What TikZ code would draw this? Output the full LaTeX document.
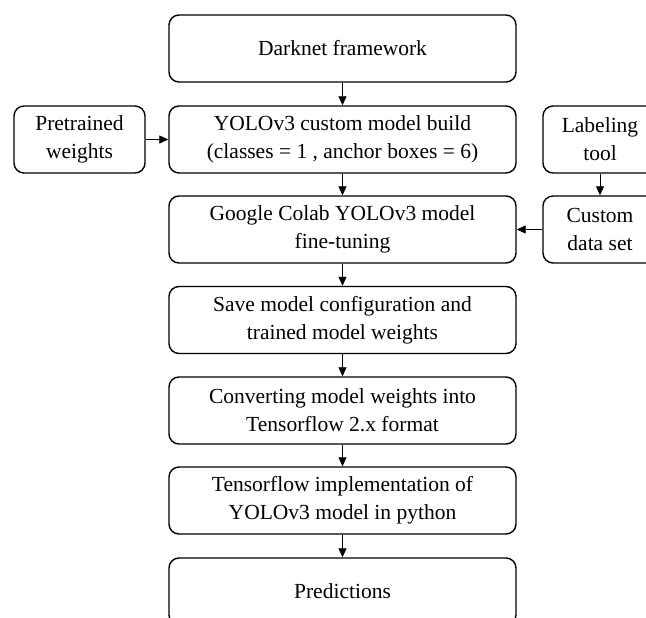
\documentclass[tikz,border=0pt]{standalone}
\usepackage{fontspec}
\setmainfont{Liberation Serif}
\usetikzlibrary{arrows.meta}
\begin{document}
\begin{tikzpicture}[x=1pt,y=-1pt,
  box/.style={draw=black, line width=1.4pt, rounded corners=10pt, inner sep=0pt,
    align=center, font=\fontsize{21.5}{28}\selectfont, minimum height=67pt},
  mainbox/.style={box, minimum width=347pt},
  sidebox/.style={box, minimum width=114pt},
  conn/.style={draw=black, line width=0.8pt, -{Triangle[length=9pt,width=8pt]}}]
\useasboundingbox (0,0) rectangle (646,618);
\clip (0,0) rectangle (646,618);
\node[mainbox] (dark) at (342.5,48.5) {Darknet framework};
\node[mainbox] (yolo) at (342.5,139.5) {YOLOv3 custom model build\\(classes = 1 , anchor boxes = 6)};
\node[mainbox] (colab) at (342.5,229.5) {Google Colab YOLOv3 model\\fine-tuning};
\node[mainbox] (save) at (342.5,320) {Save model configuration and\\trained model weights};
\node[mainbox] (conv) at (342.5,410.5) {Converting model weights into\\Tensorflow 2.x format};
\node[mainbox] (tf) at (342.5,500.5) {Tensorflow implementation of\\YOLOv3 model in python};
\node[mainbox] (pred) at (342.5,591.5) {Predictions};
\node[box, minimum width=131pt] (pre) at (79.5,139.5) {Pretrained\\weights};
\node[sidebox] (lab) at (600,139.5) {Labeling\\tool};
\node[sidebox] (cust) at (600,229.5) {Custom\\data set};
\draw[conn] (dark) -- (yolo);
\draw[conn] (yolo) -- (colab);
\draw[conn] (colab) -- (save);
\draw[conn] (save) -- (conv);
\draw[conn] (conv) -- (tf);
\draw[conn] (tf) -- (pred);
\draw[conn] (pre) -- (yolo);
\draw[conn] (lab) -- (cust);
\draw[conn] (cust) -- (colab);
\end{tikzpicture}
\end{document}
